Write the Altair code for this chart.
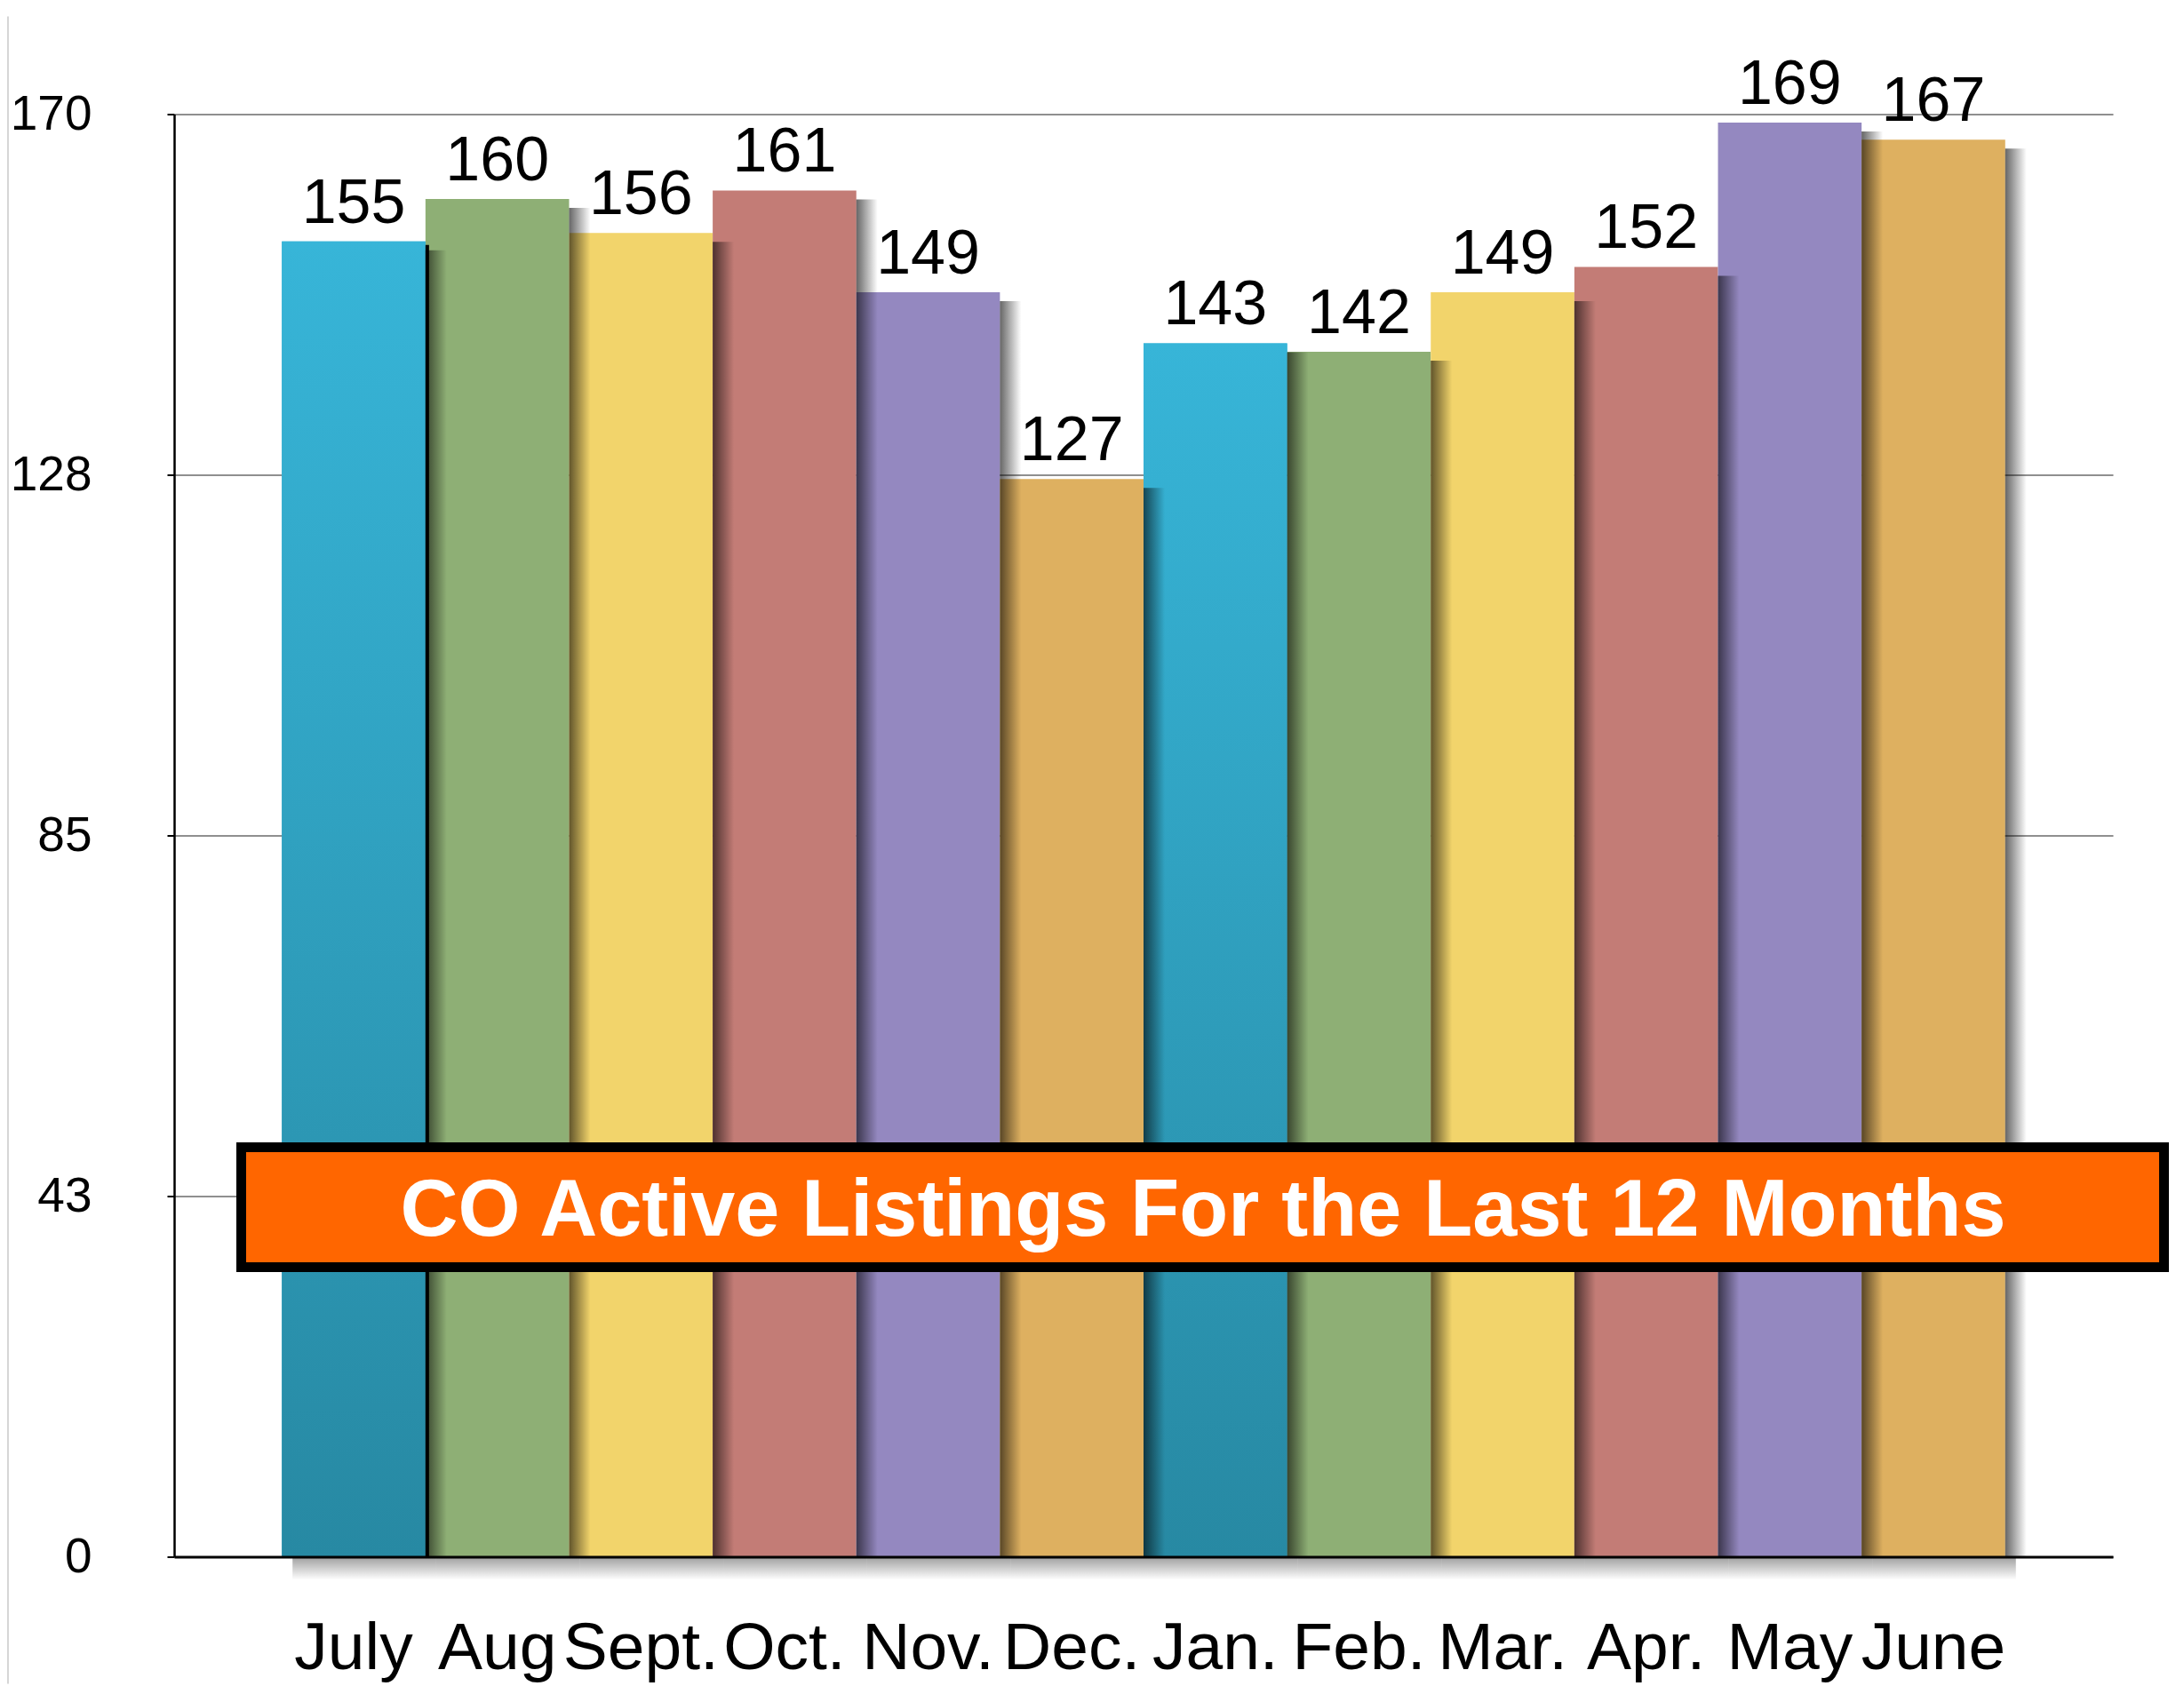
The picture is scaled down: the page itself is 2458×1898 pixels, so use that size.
import altair as alt
import pandas as pd

# ---- data ----
months = ["July", "Aug", "Sept.", "Oct.", "Nov.", "Dec.", "Jan.", "Feb.", "Mar.", "Apr.", "May", "June"]
listings = [155, 160, 156, 161, 149, 127, 143, 142, 149, 152, 169, 167]
bar_colors = ["#35B1D4", "#8EAF75", "#F2D46B", "#C37C76", "#9488C0", "#DEB060",
              "#35B1D4", "#8EAF75", "#F2D46B", "#C37C76", "#9488C0", "#DEB060"]
y_ticks = [0, 42.5, 85, 127.5, 170]
blue_months = ["July", "Jan."]
title_text = ["CO Active Listings For the Last 12 Months"]

W, H = 2182, 1624
STEP = W / 13.5
FONT = "Liberation Sans"

df = pd.DataFrame({"month": months, "value": listings, "color": bar_colors})
base = alt.Chart(df)

xscale = alt.Scale(domain=months, paddingInner=0, paddingOuter=0.75)
yscale = alt.Scale(domain=[0, 170], nice=False, zero=True)

x_axis = alt.Axis(title=None, ticks=False, domain=True, domainColor="black", domainWidth=3,
                  labelFont=FONT, labelFontSize=75, labelColor="black", labelAngle=0,
                  labelBaseline="alphabetic", labelPadding=126, labelOverlap=False,
                  labelLimit=400, labelFlush=False, grid=False, zindex=1)
y_axis = alt.Axis(title=None, values=y_ticks, labelExpr="'' + round(datum.value)",
                  domainColor="black", domainWidth=2.5, tickColor="black", tickSize=8,
                  tickWidth=2, labelFont=FONT, labelFontSize=55, labelColor="black",
                  labelPadding=85, labelBaseline="middle", grid=True, gridColor="#8f8f8f",
                  gridWidth=2, zindex=0)

X = alt.X("month:N", sort=months, scale=xscale, axis=x_axis)
Y = alt.Y("value:Q", scale=yscale, axis=y_axis)

def grad(stops, vertical):
    return alt.Gradient(
        gradient="linear",
        stops=[alt.GradientStop(color=c, offset=o) for c, o in stops],
        x1=0, x2=0 if vertical else 1, y1=0, y2=1 if vertical else 0,
    )

under_shadow = base.mark_rect(
    xOffset=12,
    fill=grad([("rgba(0,0,0,0.38)", 0), ("rgba(0,0,0,0)", 1)], True),
).encode(x=X, y=alt.value(H), y2=alt.value(H + 26))

bars = base.mark_bar().encode(
    x=X, y=Y, y2=alt.datum(0), color=alt.Color("color:N", scale=None)
)

blue_overlay = base.transform_filter(
    alt.FieldOneOfPredicate(field="month", oneOf=blue_months)
).mark_bar(
    fill=grad([("#37B5D8", 0), ("#2789A3", 1)], True)
).encode(x=X, y=Y, y2=alt.datum(0))

side_shadow = base.mark_bar(
    size=24, xOffset=STEP / 2 + 12, yOffset=10,
    fill=grad([("rgba(0,0,0,0.6)", 0), ("rgba(0,0,0,0)", 1)], False),
).encode(x=X, y=Y, y2=alt.datum(0))

july_edge = base.transform_filter(
    alt.FieldEqualPredicate(field="month", equal="July")
).mark_bar(size=4, xOffset=STEP / 2 + 2, yOffset=4, color="black").encode(
    x=X, y=Y, y2=alt.datum(0)
)

value_labels = base.mark_text(
    font=FONT, fontSize=70, color="black", baseline="alphabetic", align="center", dy=-21
).encode(x=X, y=Y, text=alt.Text("value:Q"))

tdf = pd.DataFrame({"t": title_text})
title_box = alt.Chart(tdf).mark_rect(
    fill="#FF6600", stroke="black", strokeWidth=11
).encode(x=alt.value(75.5), x2=alt.value(2239.5), y=alt.value(1163), y2=alt.value(1298))

title_label = alt.Chart(tdf).mark_text(
    font=FONT, fontWeight="bold", fontSize=90, color="white",
    baseline="alphabetic", align="center"
).encode(x=alt.value(1158), y=alt.value(1262.5), text="t:N")

edge_rule = alt.Chart(tdf).mark_rule(color="#c8c8c8", strokeWidth=1.5).encode(
    x=alt.value(-187), y=alt.value(-110), y2=alt.value(H + 143)
)

chart = alt.layer(
    under_shadow, bars, blue_overlay, side_shadow, july_edge, value_labels,
    title_box, title_label, edge_rule
).properties(
    width=W, height=H,
    padding={"left": 188, "top": 120.5, "right": 70, "bottom": 143},
    autosize=alt.AutoSizeParams(type="none"),
    background="white",
).configure_view(strokeWidth=0)

chart.save("out.html", embed_options={"renderer": "svg", "actions": False})
